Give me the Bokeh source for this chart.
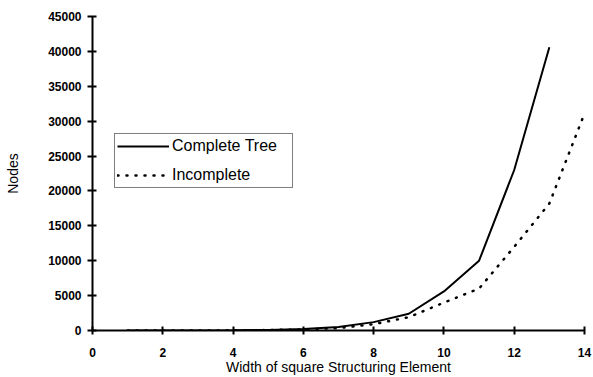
from bokeh.plotting import figure
from bokeh.models import Legend, LegendItem, FixedTicker, Range1d
from bokeh.embed import file_html
from bokeh.resources import INLINE

# Data
widths_complete = [1, 2, 3, 4, 5, 6, 7, 8, 9, 10, 11, 12, 13]
nodes_complete = [1, 4, 10, 30, 80, 200, 500, 1200, 2400, 5600, 10000, 23000, 40600]
widths_incomplete = [1, 2, 3, 4, 5, 6, 7, 8, 9, 10, 11, 12, 13, 14]
nodes_incomplete = [1, 3, 8, 20, 60, 150, 350, 900, 1900, 4000, 6000, 12000, 18200, 31100]
x_ticks = [0, 2, 4, 6, 8, 10, 12, 14]
y_ticks = [0, 5000, 10000, 15000, 20000, 25000, 30000, 35000, 40000, 45000]
series_names = ["Complete Tree", "Incomplete"]

FONT = "Liberation Sans"

p = figure(width=593, height=377, output_backend="svg", toolbar_location=None,
           x_range=Range1d(0, 14), y_range=Range1d(0, 45000),
           min_border_left=92, min_border_right=9, min_border_top=16, min_border_bottom=47,
           x_axis_label="Width of square Structuring Element", y_axis_label="Nodes")

p.outline_line_color = None
p.background_fill_color = "white"
p.xgrid.visible = False
p.ygrid.visible = False

r1 = p.line(widths_complete, nodes_complete, line_color="black", line_width=2)
r2 = p.line(widths_incomplete, nodes_incomplete, line_color="black", line_width=2.5,
            line_dash="1 8", line_cap="round")

for ax in (p.xaxis[0], p.yaxis[0]):
    ax.axis_line_color = "black"
    ax.axis_line_width = 2
    ax.major_tick_line_color = "black"
    ax.major_tick_line_width = 2
    ax.major_tick_in = 4
    ax.major_tick_out = 4
    ax.minor_tick_line_color = None
    ax.major_label_text_font = FONT
    ax.major_label_text_font_style = "bold"
    ax.major_label_text_font_size = "12px"
    ax.major_label_text_color = "black"
    ax.axis_label_text_font = FONT
    ax.axis_label_text_font_style = "normal"
    ax.axis_label_text_font_size = "14px"
    ax.axis_label_text_color = "black"

p.xaxis.ticker = FixedTicker(ticks=x_ticks)
p.yaxis.ticker = FixedTicker(ticks=y_ticks)
p.yaxis.major_tick_out = 5
p.yaxis.major_label_standoff = 6
p.yaxis.axis_label_standoff = 24
p.xaxis.major_label_standoff = 13
p.xaxis.axis_label_standoff = -1

legend = Legend(items=[LegendItem(label=series_names[0], renderers=[r1]),
                       LegendItem(label=series_names[1], renderers=[r2])],
                location=(22, 142), margin=0, padding=2, spacing=9, title_standoff=0,
                glyph_width=52, glyph_height=20, label_height=20, label_width=118,
                label_standoff=3,
                label_text_font=FONT, label_text_font_size="16px", label_text_color="black",
                border_line_color="black", border_line_width=1.5,
                background_fill_color="white", background_fill_alpha=1)
p.add_layout(legend, "center")

open("out.html", "w").write(file_html(p, INLINE))
